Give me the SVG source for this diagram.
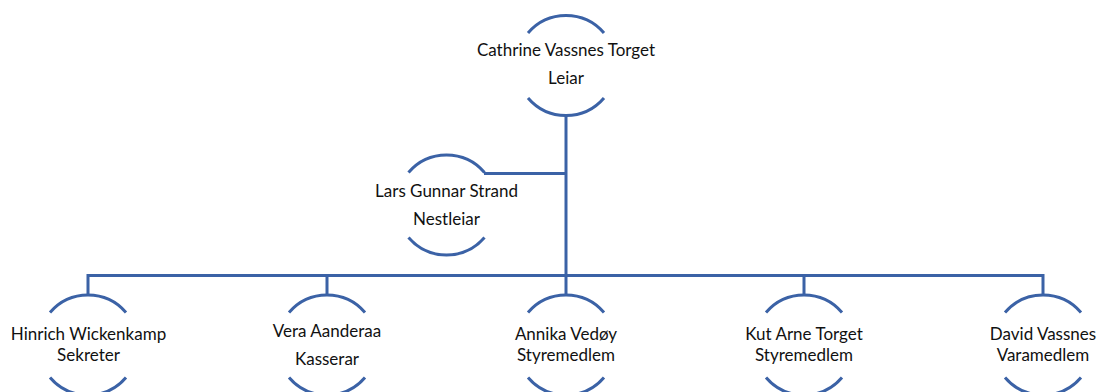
<svg xmlns="http://www.w3.org/2000/svg" xmlns:xlink="http://www.w3.org/1999/xlink" width="1098" height="392" viewBox="0 0 1098 392">
<style>
.arc{fill:none;stroke:#3B62A6;stroke-width:3}
.con{fill:none;stroke:#3B62A6;stroke-width:3}
text{font-family:Lato,"Liberation Sans",sans-serif;font-size:17px;fill:#111;text-anchor:middle}
</style>
<defs>
<path id="ring" class="arc" d="M-38,-32.5 A50,50 0 0 1 38,-32.5 M-38,32.5 A50,50 0 0 0 38,32.5"/>
</defs>
<rect width="1098" height="392" fill="#fff"/>
<g id="connectors">
<path class="con" d="M566,115.5 V295"/>
<path class="con" d="M484,173.5 H566"/>
<path class="con" d="M88,275.5 H1043"/>
<path class="con" d="M88,274 V295 M327,275.5 V295 M804,275.5 V295 M1043,274 V295"/>
</g>
<g id="n-leiar">
<use xlink:href="#ring" x="566" y="65.5"/>
<text x="566" y="56">Cathrine Vassnes Torget</text>
<text x="566" y="84">Leiar</text>
</g>
<g id="n-nestleiar">
<use xlink:href="#ring" x="446.5" y="205"/>
<text x="446.5" y="197">Lars Gunnar Strand</text>
<text x="446.5" y="225">Nestleiar</text>
</g>
<g id="n-sekreter">
<use xlink:href="#ring" x="88" y="345"/>
<text x="88.5" y="340">Hinrich Wickenkamp</text>
<text x="88.5" y="360.5">Sekreter</text>
</g>
<g id="n-kasserar">
<use xlink:href="#ring" x="327" y="345"/>
<text x="327" y="337">Vera Aanderaa</text>
<text x="327" y="365">Kasserar</text>
</g>
<g id="n-annika">
<use xlink:href="#ring" x="566" y="345"/>
<text x="566" y="340">Annika Vedøy</text>
<text x="566" y="360.5">Styremedlem</text>
</g>
<g id="n-kut">
<use xlink:href="#ring" x="804" y="345"/>
<text x="804" y="340">Kut Arne Torget</text>
<text x="804" y="360.5">Styremedlem</text>
</g>
<g id="n-david">
<use xlink:href="#ring" x="1043" y="345"/>
<text x="1043" y="340">David Vassnes</text>
<text x="1043" y="360.5">Varamedlem</text>
</g>
</svg>
